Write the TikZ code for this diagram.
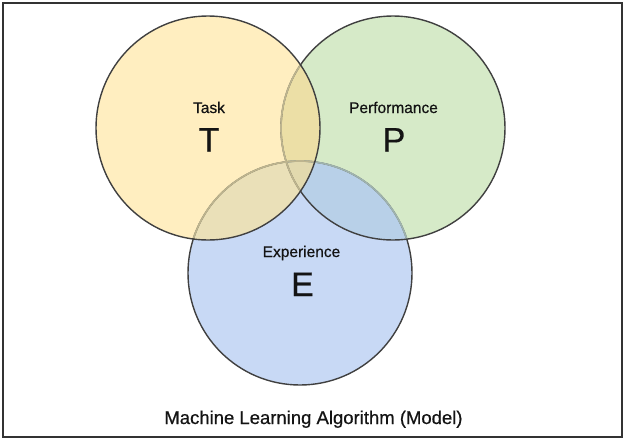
\documentclass[tikz,border=0pt]{standalone}
\usepackage{fontspec}
\setmainfont{Liberation Sans}[BoldFont=Liberation Sans,BoldFeatures={FakeBold=0.6}]
\begin{document}
\begin{tikzpicture}[x=1pt,y=-1pt,
  lbl/.style={anchor=base,inner sep=0pt,text=txtc,font=\fontsize{15.5}{18}\selectfont\bfseries},
  big/.style={anchor=base,inner sep=0pt,text=txtc,font=\fontsize{34}{40}\selectfont\bfseries},
  ring/.style={draw=edgec,line width=1.4pt},
  ringT/.style={draw=edgeT,line width=1.7pt},
  ringP/.style={draw=edgeP,line width=1.7pt}]
\definecolor{txtc}{HTML}{141414}
\definecolor{edgec}{HTML}{404040}
\definecolor{edgeT}{HTML}{BDB48E}
\definecolor{edgeP}{HTML}{9FB3AE}
\definecolor{cT}{HTML}{FFEEC0}
\definecolor{cP}{HTML}{D6EAC8}
\definecolor{cE}{HTML}{C8D9F5}
\definecolor{cTP}{HTML}{ECDFA6}
\definecolor{cTE}{HTML}{EAE0B8}
\definecolor{cPE}{HTML}{B8D0E8}
\definecolor{cTPE}{HTML}{E2D9AE}
\definecolor{framec}{HTML}{333333}
\fill[white] (0,0) rectangle (625,440);
\useasboundingbox (0,0) rectangle (625,440);
\draw[framec,line width=1.8pt] (3,3) rectangle (622,437);
\coordinate (cT) at (208,128);
\coordinate (cP) at (393,128);
\coordinate (cE) at (300,273);
% base fills
\fill[cE] (cE) circle[radius=112];
\fill[cP] (cP) circle[radius=112];
\fill[cT] (cT) circle[radius=112];
% pairwise overlaps
\begin{scope}
  \clip (cP) circle[radius=112];
  \fill[cPE] (cE) circle[radius=112];
\end{scope}
\begin{scope}
  \clip (cT) circle[radius=112];
  \fill[cTP] (cP) circle[radius=112];
  \fill[cTE] (cE) circle[radius=112];
  \clip (cP) circle[radius=112];
  \fill[cTPE] (cE) circle[radius=112];
\end{scope}
% outlines
\draw[ring] (cE) circle[radius=112];
\draw[ring] (cP) circle[radius=112];
\begin{scope}
  \clip (cP) circle[radius=111.3];
  \draw[ringP] (cE) circle[radius=112];
\end{scope}
\begin{scope}
  \clip (cT) circle[radius=111.3];
  \draw[ringT] (cE) circle[radius=112];
  \draw[ringT] (cP) circle[radius=112];
\end{scope}
\draw[ring] (cT) circle[radius=112];
% labels
\node[lbl] (task) at (209,113) {Task};
\node[big] (t) at (209,151.5) {T};
\node[lbl] (perf) at (393.5,113) {Performance};
\node[big] (p) at (394,151.5) {P};
\node[lbl] (exp) at (301.5,257) {Experience};
\node[big] (e) at (302.5,296) {E};
\node[anchor=base,inner sep=0pt,text=txtc,font=\fontsize{18.5}{22}\selectfont\bfseries] (title) at (313.5,424) {Machine Learning Algorithm (Model)};
\end{tikzpicture}
\end{document}
